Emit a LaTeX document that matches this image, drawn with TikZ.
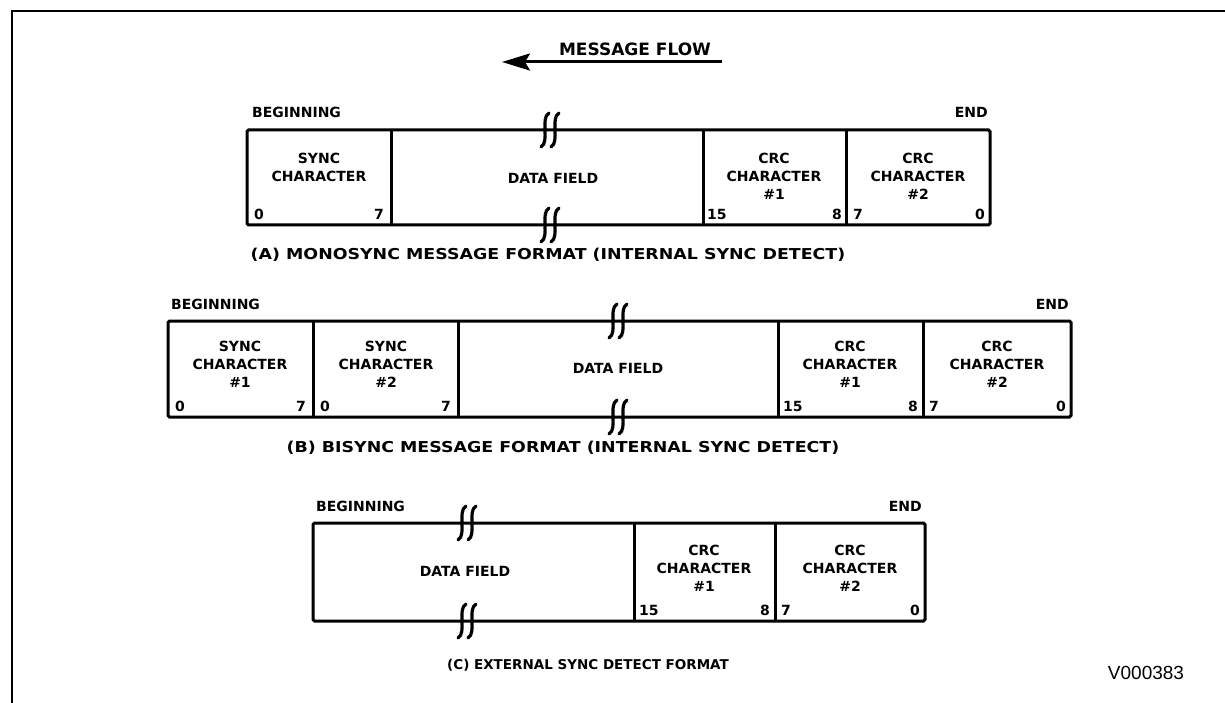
\documentclass[tikz,border=0pt]{standalone}
\usepackage{fontspec}
\usepackage{tikz}
\usetikzlibrary{arrows.meta}
\newfontfamily\lblfont{DejaVu Sans}
\newfontfamily\tagfont{Liberation Sans}

% break mark across a field edge
\newcommand{\brkmark}[2]{%
  \begin{scope}[shift={(#1,#2)}]
    \foreach \d in {-5,5}
      \draw[brk] (\d+4,-17) .. controls (\d-5,-12) and (\d+5,12) .. (\d-4,17);
  \end{scope}}

\begin{document}
\begin{tikzpicture}[x=1pt,y=-1pt]
	 \tikzstyle{frame}=[line width=2.8pt,black]
	 \tikzstyle{field}=[line width=3pt,black,rounded corners=1.5pt]
	 \tikzstyle{brk}=[line width=3.2pt,line cap=round,black]
	 \tikzstyle{lbl}=[inner sep=0pt,align=center,font={\lblfont\bfseries\fontsize{14}{18}\selectfont}]
	 \tikzstyle{bit}=[lbl]
	 \tikzstyle{caption}=[lbl,font={\lblfont\bfseries\fontsize{15}{17}\selectfont},xscale=1.16,transform shape]

	 \useasboundingbox (0,0) rectangle (1225,703);
	 \draw[frame] (12,703) -- (12,11) -- (1225,11);

	 % message flow
	 \node[lbl,font={\lblfont\bfseries\fontsize{17}{19}\selectfont}] (flow) at (635,49) {MESSAGE FLOW};
	 \coordinate (flowR) at (722,62);
	 \coordinate (flowL) at (502,62);
	 \draw[line width=3pt,-{Stealth[length=28pt,width=17pt,inset=5pt]}] (flowR) -- (flowL);

	 % (A) monosync
	 \draw[field] (247,130) rectangle (990,225);
	 \draw[field] (391,130) -- (391,225);
	 \draw[field] (703,130) -- (703,225);
	 \draw[field] (846,130) -- (846,225);
	 \brkmark{550}{130}
	 \brkmark{550}{225}
	 \node[lbl,anchor=base west] (a-beg) at (252,118) {BEGINNING};
	 \node[lbl,anchor=base east] (a-end) at (988,118) {END};
	 \node[lbl,anchor=north] (a-sync) at (319,153) {SYNC\\CHARACTER};
	 \node[lbl] (a-data) at (553,178) {DATA FIELD};
	 \node[lbl,anchor=north] (a-crc1) at (774,153) {CRC\\CHARACTER\\\#1};
	 \node[lbl,anchor=north] (a-crc2) at (918,153) {CRC\\CHARACTER\\\#2};
	 \node[bit,anchor=base west] at (254,220) {0};
	 \node[bit,anchor=base east] at (384,220) {7};
	 \node[bit,anchor=base west] at (707,220) {15};
	 \node[bit,anchor=base east] at (842,220) {8};
	 \node[bit,anchor=base west] at (853,220) {7};
	 \node[bit,anchor=base east] at (985,220) {0};
	 \node[caption] (a-cap) at (548,255) {(A) MONOSYNC MESSAGE FORMAT (INTERNAL SYNC DETECT)};

	 % (B) bisync
	 \draw[field] (168,321) rectangle (1071,417);
	 \draw[field] (313,321) -- (313,417);
	 \draw[field] (458,321) -- (458,417);
	 \draw[field] (778,321) -- (778,417);
	 \draw[field] (923,321) -- (923,417);
	 \brkmark{618}{321}
	 \brkmark{618}{417}
	 \node[lbl,anchor=base west] (b-beg) at (171,309) {BEGINNING};
	 \node[lbl,anchor=base east] (b-end) at (1069,309) {END};
	 \node[lbl,anchor=north] (b-sync1) at (240,341) {SYNC\\CHARACTER\\\#1};
	 \node[lbl,anchor=north] (b-sync2) at (386,341) {SYNC\\CHARACTER\\\#2};
	 \node[lbl] (b-data) at (618,368) {DATA FIELD};
	 \node[lbl,anchor=north] (b-crc1) at (850,341) {CRC\\CHARACTER\\\#1};
	 \node[lbl,anchor=north] (b-crc2) at (997,341) {CRC\\CHARACTER\\\#2};
	 \node[bit,anchor=base west] at (175,411) {0};
	 \node[bit,anchor=base east] at (306,411) {7};
	 \node[bit,anchor=base west] at (320,411) {0};
	 \node[bit,anchor=base east] at (451,411) {7};
	 \node[bit,anchor=base west] at (783,411) {15};
	 \node[bit,anchor=base east] at (918,411) {8};
	 \node[bit,anchor=base west] at (929,411) {7};
	 \node[bit,anchor=base east] at (1066,411) {0};
	 \node[caption] (b-cap) at (563,448) {(B) BISYNC MESSAGE FORMAT (INTERNAL SYNC DETECT)};

	 % (C) external sync
	 \draw[field] (313,523) rectangle (925,621);
	 \draw[field] (634,523) -- (634,621);
	 \draw[field] (775,523) -- (775,621);
	 \brkmark{467}{523}
	 \brkmark{467}{621}
	 \node[lbl,anchor=base west] (c-beg) at (316,511) {BEGINNING};
	 \node[lbl,anchor=base east] (c-end) at (922,511) {END};
	 \node[lbl] (c-data) at (465,571) {DATA FIELD};
	 \node[lbl,anchor=north] (c-crc1) at (704,545) {CRC\\CHARACTER\\\#1};
	 \node[lbl,anchor=north] (c-crc2) at (850,545) {CRC\\CHARACTER\\\#2};
	 \node[bit,anchor=base west] at (639,615) {15};
	 \node[bit,anchor=base east] at (770,615) {8};
	 \node[bit,anchor=base west] at (781,615) {7};
	 \node[bit,anchor=base east] at (920,615) {0};
	 \node[lbl,font={\lblfont\bfseries\fontsize{13.5}{16}\selectfont}] (c-cap) at (588,665) {(C) EXTERNAL SYNC DETECT FORMAT};

	 \node[inner sep=0pt,font={\tagfont\fontsize{19}{22}\selectfont}] (tag) at (1146,673) {V000383};
 \end{tikzpicture}
\end{document}
